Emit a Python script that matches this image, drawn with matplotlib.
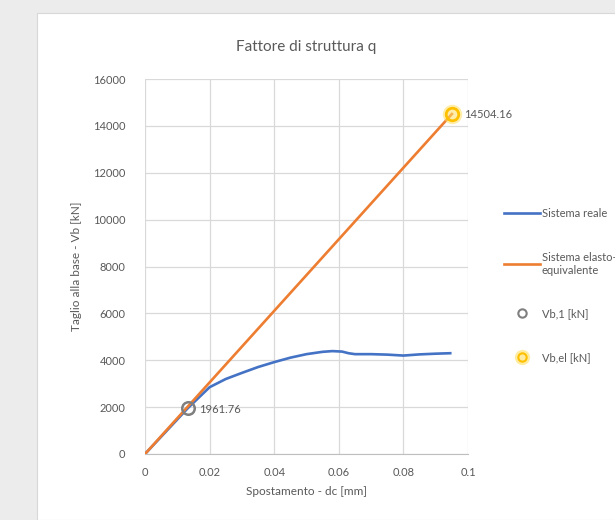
import matplotlib
matplotlib.use("Agg")
import matplotlib.pyplot as plt
from matplotlib.patches import Rectangle
from matplotlib.lines import Line2D
from matplotlib.legend_handler import HandlerTuple

plt.rcParams['font.family'] = ['Lato', 'DejaVu Sans']

# ---- data ----
dc_reale = [0, 0.0133, 0.02, 0.025, 0.03, 0.035, 0.04, 0.045, 0.05, 0.055, 0.058,
            0.061, 0.063, 0.065, 0.07, 0.075, 0.08, 0.085, 0.09, 0.0945]
vb_reale = [0, 1962, 2850, 3200, 3460, 3710, 3920, 4110, 4260, 4360, 4390,
            4370, 4300, 4260, 4260, 4240, 4200, 4250, 4280, 4300]
dc_elast = [0, 0.095]
vb_elast = [0, 14504.16]
vb1_point = (0.0133, 1961.76)
vbel_point = (0.095, 14504.16)
x_ticks = [0, 0.02, 0.04, 0.06, 0.08, 0.1]
x_ticklabels = ["0", "0.02", "0.04", "0.06", "0.08", "0.1"]
y_ticks = [0, 2000, 4000, 6000, 8000, 10000, 12000, 14000, 16000]
labels = ["Sistema reale", "Sistema elasto-plastico\nequivalente", "Vb,1 [kN]", "Vb,el [kN]"]

W, H = 615, 520
fig = plt.figure(figsize=(W / 100, H / 100), dpi=100, facecolor="#ececec")
# white chart area
fig.add_artist(Rectangle((37 / W, 0), 1, (H - 13) / H, transform=fig.transFigure,
                         facecolor="white", edgecolor="#d8d8d8", lw=0.8, zorder=0))

ax = fig.add_axes([145 / W, (H - 454) / H, (468 - 145) / W, (454 - 79) / H])
ax.set_facecolor("white")
txt = "#595959"

l_reale, = ax.plot(dc_reale, vb_reale, color="#4472C4", lw=1.9, zorder=3)
l_elast, = ax.plot(dc_elast, vb_elast, color="#ED7D31", lw=1.9, zorder=3)
p1, = ax.plot([vb1_point[0]], [vb1_point[1]], marker="o", ms=9, mfc="none",
              mec="#7f7f7f", mew=1.8, ls="none", zorder=5)
glow, = ax.plot([vbel_point[0]], [vbel_point[1]], marker="o", ms=14, mfc="#FFE066",
                mec="none", alpha=0.55, ls="none", zorder=4)
p2, = ax.plot([vbel_point[0]], [vbel_point[1]], marker="o", ms=9, mfc="none",
              mec="#FFC000", mew=2, ls="none", zorder=5)

ax.annotate(f"{vb1_point[1]:.2f}", vb1_point, xytext=(8, -1), textcoords="offset points",
            va="center", ha="left", fontsize=8, color=txt)
ax.annotate(f"{vbel_point[1]:.2f}", vbel_point, xytext=(9, 0), textcoords="offset points",
            va="center", ha="left", fontsize=8, color=txt)

ax.set_xlim(0, 0.1)
ax.set_ylim(0, 16000)
ax.set_xticks(x_ticks)
ax.set_xticklabels(x_ticklabels)
ax.set_yticks(y_ticks)
ax.grid(True, color="#d9d9d9", lw=0.9)
ax.set_axisbelow(True)
for s in ["top", "right", "left"]:
    ax.spines[s].set_visible(False)
ax.spines["bottom"].set_color("#bfbfbf")
ax.tick_params(length=0, labelsize=8, colors=txt, pad=9)
ax.tick_params(axis="y", pad=14)

ax.set_title("Fattore di struttura q", fontsize=11, color=txt, pad=20)
ax.set_xlabel("Spostamento - dc [mm]", fontsize=8.5, color=txt, labelpad=6)
ax.set_ylabel("Taglio alla base - Vb [kN]", fontsize=8.5, color=txt, labelpad=8)

# legend
p2l = Line2D([], [], marker="o", ms=6, mfc="none", mec="#FFC000", mew=1.5, ls="none")
glowl = Line2D([], [], marker="o", ms=11, mfc="#FFE066", mec="none", alpha=0.6, ls="none")
p1l = Line2D([], [], marker="o", ms=6, mfc="none", mec="#7f7f7f", mew=1.5, ls="none")
leg = fig.legend([l_reale, l_elast, p1l, (glowl, p2l)], labels,
                 loc="upper left", bbox_to_anchor=(494 / W, 1 - 198 / H),
                 frameon=False, fontsize=8, handlelength=3.2, handletextpad=0.2,
                 labelspacing=2.95, labelcolor=txt,
                 handler_map={tuple: HandlerTuple(ndivide=1)})

fig.savefig("out.png", dpi=100, facecolor=fig.get_facecolor())
